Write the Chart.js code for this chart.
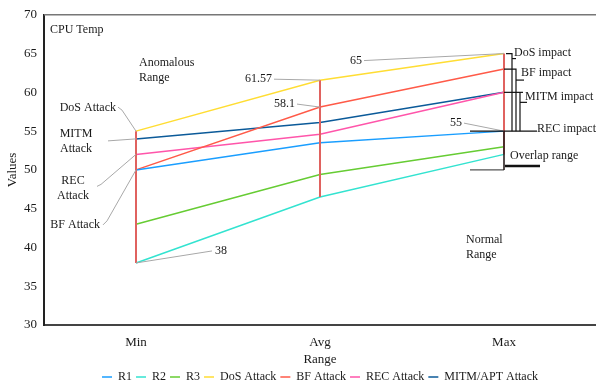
<!DOCTYPE html>
<html>
<head>
<meta charset="utf-8">
<script src="https://cdn.jsdelivr.net/npm/chart.js@4/dist/chart.umd.min.js"></script>
<style>
  html, body { margin: 0; padding: 0; background: #fff; }
  #wrap { width: 596px; height: 388px; position: relative; }
</style>
</head>
<body>
<div id="wrap"><canvas id="c"></canvas></div>
<script>
// CPU temperature per range bucket (°C)
const categories = ['Min', 'Avg', 'Max'];
const r1         = [50, 53.5, 55];
const r2         = [38, 46.5, 52];
const r3         = [43, 49.4, 53];
const dosAttack  = [55, 61.57, 65];
const bfAttack   = [50, 58.1, 63];
const recAttack  = [52, 54.6, 60];
const mitmAttack = [54, 56.1, 60];
const overlapRange = [50, 55];
const yMin = 30, yMax = 70, yStep = 5;

const FONT = "'Liberation Serif', 'Times New Roman', serif";
const INK = '#1a1a1a';

const series = [
  { label: 'R1', data: r1, color: '#1a9eff' },
  { label: 'R2', data: r2, color: '#33e3d0' },
  { label: 'R3', data: r3, color: '#66cc33' },
  { label: 'DoS Attack', data: dosAttack, color: '#ffdd33' },
  { label: 'BF Attack', data: bfAttack, color: '#ff5a48' },
  { label: 'REC Attack', data: recAttack, color: '#ff55aa' },
  { label: 'MITM/APT Attack', data: mitmAttack, color: '#0b5a99' }
];

// Annotation layer: range bars, leader lines, callout text and impact brackets
const annotations = {
  id: 'annotations',
  afterDatasetsDraw(chart) {
    const { ctx, chartArea: a, scales: { x, y } } = chart;
    const X = i => x.getPixelForValue(i);
    const Y = v => y.getPixelForValue(v);
    const all = series.map(s => s.data);

    const line = (pts, color, w) => {
      ctx.beginPath();
      ctx.strokeStyle = color;
      ctx.lineWidth = w;
      pts.forEach((p, k) => k ? ctx.lineTo(p[0], p[1]) : ctx.moveTo(p[0], p[1]));
      ctx.stroke();
    };
    const text = (s, tx, ty, align) => {
      ctx.fillStyle = INK;
      ctx.font = '12px ' + FONT;
      ctx.textAlign = align || 'left';
      ctx.textBaseline = 'middle';
      ctx.fillText(s, tx, ty);
    };

    ctx.save();
    // frame top edge
    line([[a.left, a.top], [a.right, a.top]], '#777', 1.5);

    // vertical spread at every bucket
    categories.forEach((c, i) => {
      const vals = all.map(d => d[i]);
      line([[X(i), Y(Math.max(...vals))], [X(i), Y(Math.min(...vals))]], '#e0625f', 2);
    });

    const lead = '#a8a8a8';
    const x0 = X(0), x1 = X(1), x2 = X(2);

    text('CPU Temp', a.left + 6, a.top + 15);
    text('Anomalous', x0 + 3, a.top + 48);
    text('Range', x0 + 3, a.top + 63);

    // attack labels on the Min bucket
    text('DoS Attack', x0 - 20, Y(dosAttack[0]) - 23, 'right');
    line([[x0 - 18, Y(dosAttack[0]) - 24], [x0 - 14, Y(dosAttack[0]) - 21], [x0, Y(dosAttack[0])]], lead, 1);
    text('MITM', x0 - 60, Y(mitmAttack[0]) - 5, 'center');
    text('Attack', x0 - 60, Y(mitmAttack[0]) + 10, 'center');
    line([[x0 - 28, Y(mitmAttack[0]) + 2], [x0, Y(mitmAttack[0])]], lead, 1);
    text('REC', x0 - 63, Y(recAttack[0]) + 26, 'center');
    text('Attack', x0 - 63, Y(recAttack[0]) + 41, 'center');
    line([[x0 - 39, Y(recAttack[0]) + 32], [x0 - 35, Y(recAttack[0]) + 30], [x0, Y(recAttack[0])]], lead, 1);
    text('BF Attack', x0 - 36, Y(bfAttack[0]) + 55, 'right');
    line([[x0 - 33, Y(bfAttack[0]) + 55], [x0 - 29, Y(bfAttack[0]) + 51], [x0, Y(bfAttack[0])]], lead, 1);

    // value callouts
    text(String(r2[0]), x0 + 79, Y(r2[0]) - 12);
    line([[x0, Y(r2[0])], [x0 + 76, Y(r2[0]) - 12]], lead, 1);
    text(String(dosAttack[1]), x1 - 48, Y(dosAttack[1]) - 1, 'right');
    line([[x1 - 46, Y(dosAttack[1]) - 1], [x1, Y(dosAttack[1])]], lead, 1);
    text(String(bfAttack[1]), x1 - 25, Y(bfAttack[1]) - 3, 'right');
    line([[x1 - 23, Y(bfAttack[1]) - 3], [x1, Y(bfAttack[1])]], lead, 1);
    text(String(dosAttack[2]), x2 - 142, Y(dosAttack[2]) + 7, 'right');
    line([[x2 - 140, Y(dosAttack[2]) + 7], [x2, Y(dosAttack[2])]], lead, 1);
    text(String(r1[2]), x2 - 42, Y(r1[2]) - 8, 'right');
    line([[x2 - 40, Y(r1[2]) - 8], [x2, Y(r1[2])]], lead, 1);

    text('Normal', x2 - 38, a.top + 225);
    text('Range', x2 - 38, a.top + 240);

    // overlap bracket on the Max bucket
    const dark = '#2a2020';
    const yLo = Y(overlapRange[0]), yHi = Y(overlapRange[1]);
    line([[x2 - 34, yHi], [x2, yHi]], '#111', 1.3);
    line([[x2 - 34, yLo], [x2, yLo]], '#555', 1.3);
    line([[x2, yHi], [x2, yLo]], dark, 1.6);
    line([[x2 + 1, yLo - 4], [x2 + 36, yLo - 4]], '#111', 2.5);
    text('Overlap range', x2 + 6, yLo - 14);

    // impact brackets
    const k = '#111';
    const yDos = Y(dosAttack[2]), yBf = Y(bfAttack[2]), yMitm = Y(mitmAttack[2]), yBase = Y(r1[2]);
    line([[x2 + 2, yDos], [x2 + 8, yDos], [x2 + 8, yBase]], k, 1.2);
    line([[x2 + 8, yDos + 5], [x2 + 12, yDos + 5]], k, 1.2);
    text('DoS impact', x2 + 10, yDos - 1);
    line([[x2, yBf], [x2 + 12, yBf], [x2 + 12, yBase]], k, 1.2);
    line([[x2 + 12, yBf + 11], [x2 + 20, yBf + 11]], k, 1.2);
    text('BF impact', x2 + 17, yBf + 4);
    line([[x2, yMitm], [x2 + 19, yMitm]], k, 1.2);
    line([[x2 + 16, yMitm], [x2 + 16, yBase]], k, 1.2);
    line([[x2 + 16, yMitm + 10], [x2 + 23, yMitm + 10]], k, 1.2);
    text('MITM impact', x2 + 21, yMitm + 4);
    line([[x2, yBase], [x2 + 33, yBase]], k, 1.2);
    text('REC impact', x2 + 33, yBase - 2);
    ctx.restore();
  }
};

const axisFont = { family: FONT, size: 13 };

new Chart(document.getElementById('c'), {
  type: 'line',
  data: {
    labels: categories,
    datasets: series.map(s => ({
      label: s.label,
      data: s.data,
      borderColor: s.color,
      backgroundColor: s.color,
      borderWidth: 1.5,
      pointRadius: 0,
      tension: 0,
      fill: false
    }))
  },
  options: {
    responsive: true,
    maintainAspectRatio: false,
    animation: false,
    layout: { padding: { top: 13, right: 0, bottom: 0, left: 0 } },
    plugins: {
      tooltip: { enabled: false },
      legend: {
        position: 'bottom',
        fullSize: false,
        maxHeight: 21,
        labels: {
          usePointStyle: true,
          pointStyle: 'line',
          pointStyleWidth: 10,
          padding: 4,
          color: INK,
          font: { family: FONT, size: 12 }
        }
      }
    },
    scales: {
      x: {
        offset: true,
        grid: { display: true, drawOnChartArea: false, drawTicks: false },
        border: { color: '#444', width: 2 },
        ticks: { color: INK, font: axisFont, padding: 10 },
        title: { display: true, text: 'Range', color: INK, font: axisFont, padding: { top: 0, bottom: 0 } },
        afterFit(s) { s.height = 42; }
      },
      y: {
        min: yMin,
        max: yMax,
        grid: { display: true, drawOnChartArea: false, drawTicks: false },
        border: { color: '#222', width: 2 },
        ticks: { stepSize: yStep, color: INK, font: axisFont, padding: 7 },
        title: { display: true, text: 'Values', color: INK, font: axisFont, padding: { top: 5, bottom: 4 } },
        afterFit(s) { s.width = 44; }
      }
    }
  },
  plugins: [annotations]
});
</script>
</body>
</html>
